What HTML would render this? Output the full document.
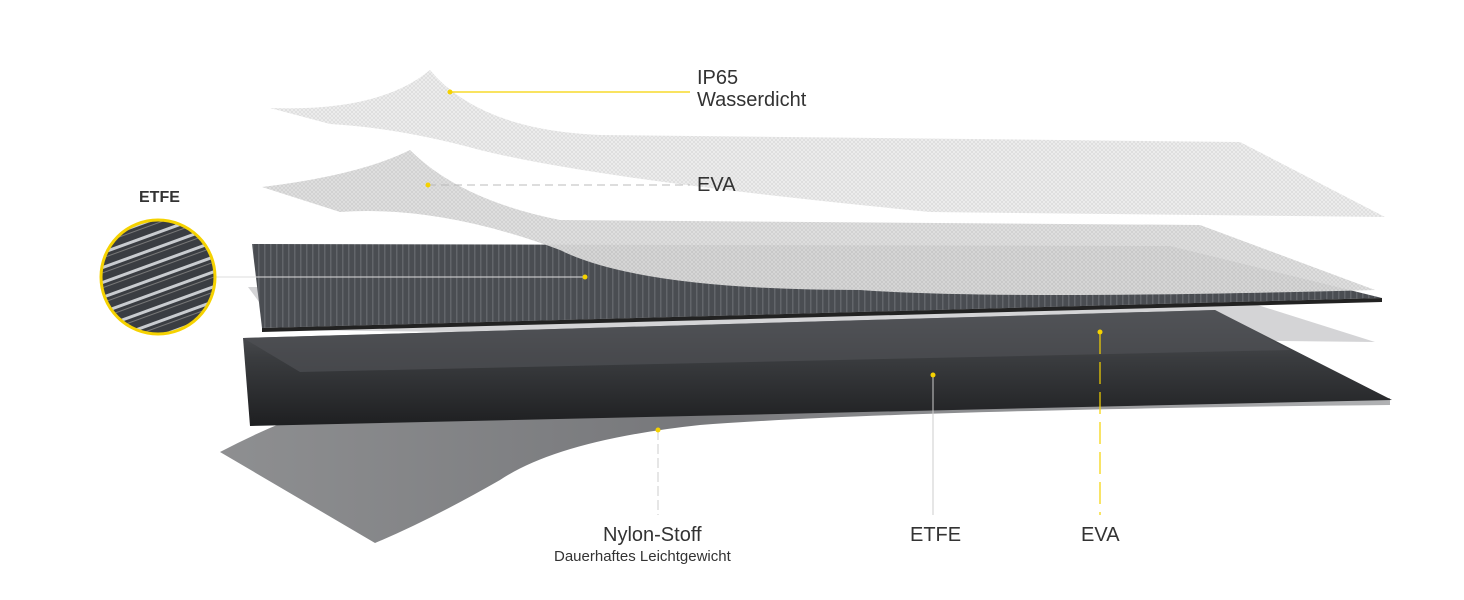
<!DOCTYPE html>
<html><head><meta charset="utf-8"><style>
html,body{margin:0;padding:0;background:#fff;}
body{width:1464px;height:600px;position:relative;overflow:hidden;font-family:"Liberation Sans",sans-serif;color:#333;}
.t{position:absolute;font-size:20px;color:#333;white-space:nowrap;}
</style></head><body>
<svg width="1464" height="600" style="position:absolute;left:0;top:0">
<defs>
<pattern id="mesh" width="4" height="4" patternUnits="userSpaceOnUse"><rect width="4" height="4" fill="#ececec"/><path d="M0 0L4 4M4 0L0 4" stroke="#d2d2d2" stroke-width="0.5"/></pattern>
<pattern id="mesh2" width="4" height="4" patternUnits="userSpaceOnUse"><rect width="4" height="4" fill="#dcdcdc"/><path d="M0 0L4 4M4 0L0 4" stroke="#c2c2c2" stroke-width="0.5"/></pattern>
<pattern id="cells" width="6" height="60" patternUnits="userSpaceOnUse"><rect width="6" height="60" fill="#4a4d52"/><rect width="1.5" height="60" fill="#62656a"/></pattern>
<pattern id="zoom" width="14" height="14" patternUnits="userSpaceOnUse" patternTransform="rotate(-20)"><rect width="14" height="14" fill="#3a3d42"/><rect y="5" width="14" height="3" fill="#c9ccd0"/><rect y="11" width="14" height="1" fill="#777"/></pattern>
<linearGradient id="dark" x1="0" y1="0" x2="0" y2="1"><stop offset="0" stop-color="#5a5c60"/><stop offset="0.4" stop-color="#3b3d40"/><stop offset="1" stop-color="#1e1f21"/></linearGradient>
<linearGradient id="nyl" x1="0" y1="0" x2="1" y2="0"><stop offset="0" stop-color="#8e8f91"/><stop offset="0.4" stop-color="#77787b"/><stop offset="1" stop-color="#b0b1b3"/></linearGradient>
<clipPath id="cc"><circle cx="158" cy="277" r="56"/></clipPath>
</defs>
<path d="M220 452 Q300 410 370 395 L1390 398 L1390 405 Q900 410 700 425 Q560 440 500 480 Q430 520 375 543 Z" fill="url(#nyl)"/>
<path d="M248 287 L1210 290 L1375 342 L280 330 Z" fill="#d4d4d6"/>
<path d="M243 338 L1215 310 L1392 400 L250 426 Z" fill="url(#dark)"/>
<path d="M243 338 L1215 310 L1290 350 L300 372 Z" fill="#4e5054" opacity="0.7"/>
<path d="M252 244 L1170 246 L1382 298 L262 328 Z" fill="url(#cells)"/>
<path d="M1382 298 L262 328 L262 332 L1382 302 Z" fill="#222"/>
<path d="M262 187 Q360 175 410 150 Q460 200 560 220 L1200 225 L1375 290 Q1000 300 860 290 Q640 290 560 250 Q440 205 340 212 Z" fill="url(#mesh2)" opacity="0.95"/>
<path d="M270 108 Q380 112 430 70 Q480 130 600 135 L1240 142 L1385 217 L930 212 Q600 180 480 150 Q400 128 330 124 Z" fill="url(#mesh)"/>
<line x1="450" y1="92" x2="690" y2="92" stroke="#f5d200" stroke-width="1.2"/>
<line x1="428" y1="185" x2="690" y2="185" stroke="#bbb" stroke-width="1" stroke-dasharray="8 5"/>
<line x1="215" y1="277" x2="585" y2="277" stroke="#ddd" stroke-width="1"/>
<line x1="658" y1="430" x2="658" y2="515" stroke="#ccc" stroke-width="1" stroke-dasharray="10 4"/>
<line x1="933" y1="375" x2="933" y2="515" stroke="#ccc" stroke-width="1"/>
<line x1="1100" y1="332" x2="1100" y2="515" stroke="#f5d200" stroke-width="1.2" stroke-dasharray="22 8"/>
<g fill="#f5d200"><circle cx="450" cy="92" r="2.5"/><circle cx="428" cy="185" r="2.5"/><circle cx="585" cy="277" r="2.5"/><circle cx="658" cy="430" r="2.5"/><circle cx="933" cy="375" r="2.5"/><circle cx="1100" cy="332" r="2.5"/></g>
<rect x="100" y="219" width="116" height="116" fill="url(#zoom)" clip-path="url(#cc)"/>
<circle cx="158" cy="277" r="57" fill="none" stroke="#f5d200" stroke-width="3"/>
</svg>
<div class="t" style="left:697px;top:67px">IP65</div>
<div class="t" style="left:697px;top:89px">Wasserdicht</div>
<div class="t" style="left:697px;top:174px">EVA</div>
<div class="t" style="left:139px;top:189px;font-size:16px;font-weight:bold">ETFE</div>
<div class="t" style="left:603px;top:524px">Nylon-Stoff</div>
<div class="t" style="left:554px;top:548px;font-size:15px">Dauerhaftes Leichtgewicht</div>
<div class="t" style="left:910px;top:524px">ETFE</div>
<div class="t" style="left:1081px;top:524px">EVA</div>
</body></html>
